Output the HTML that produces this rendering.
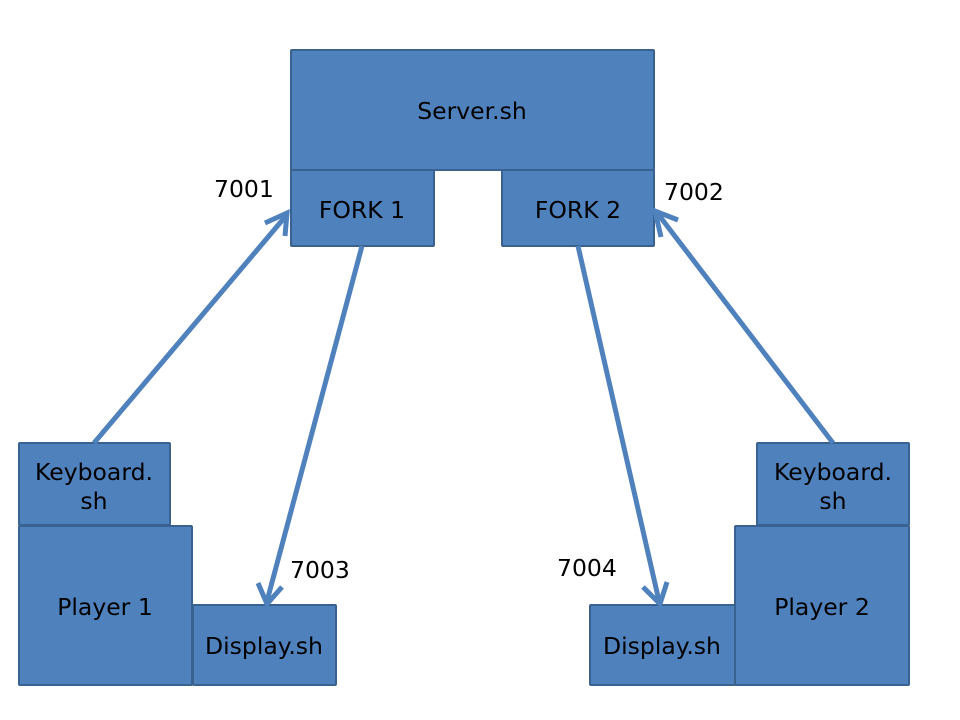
<!DOCTYPE html>
<html><head><meta charset="utf-8"><style>
html,body{margin:0;padding:0;background:#fff;}
svg{display:block;}
text{font-family:"DejaVu Sans","Liberation Sans",sans-serif;font-size:23.5px;fill:#000;}
</style></head><body>
<svg width="960" height="720" viewBox="0 0 960 720" xmlns="http://www.w3.org/2000/svg">
<g fill="#4f81bd" stroke="#3a6290" stroke-width="2">
<rect x="291" y="50" width="363" height="120" rx="1"/>
<rect x="291" y="170" width="143" height="76" rx="1"/>
<rect x="502" y="170" width="152" height="76" rx="1"/>
<rect x="19" y="443" width="151" height="82" rx="1"/>
<rect x="19" y="526" width="173" height="159" rx="1"/>
<rect x="193" y="605" width="143" height="80" rx="1"/>
<rect x="757" y="443" width="152" height="82" rx="1"/>
<rect x="735" y="526" width="174" height="159" rx="1"/>
<rect x="590" y="605" width="145" height="80" rx="1"/>
</g>
<g stroke="#4f81bd" stroke-width="5" fill="none" stroke-linecap="butt">
<line x1="94" y1="443" x2="285" y2="217"/>
<polyline points="265,223 287,213 285,236"/>
<line x1="362" y1="246" x2="267" y2="601"/>
<polyline points="258,583 267,604 282,587"/>
<line x1="578" y1="246" x2="659" y2="601"/>
<polyline points="643,587 660,604 667,582"/>
<line x1="833" y1="443" x2="658" y2="214"/>
<polyline points="661,237 655,211 678,220"/>
</g>
<g text-anchor="middle">
<text x="472" y="119">Server.sh</text>
<text x="362" y="218">FORK 1</text>
<text x="578" y="218">FORK 2</text>
<text x="94" y="480">Keyboard.</text>
<text x="94" y="509">sh</text>
<text x="105" y="615">Player 1</text>
<text x="264" y="654">Display.sh</text>
<text x="833" y="480">Keyboard.</text>
<text x="833" y="509">sh</text>
<text x="822" y="615">Player 2</text>
<text x="662" y="654">Display.sh</text>
</g>
<text x="214" y="197">7001</text>
<text x="664" y="200">7002</text>
<text x="290" y="578">7003</text>
<text x="557" y="576">7004</text>
</svg>
</body></html>
